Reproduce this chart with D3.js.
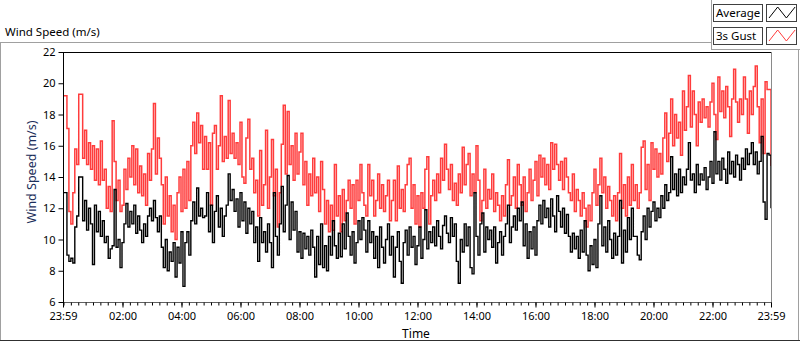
<!DOCTYPE html>
<html><head><meta charset="utf-8">
<script src="https://cdn.jsdelivr.net/npm/d3@7"></script>
<style>
body{margin:0;background:#fff;}
svg text{font-family:"Noto Sans",sans-serif;}
</style></head><body>
<svg id="c" width="800" height="342"></svg>
<script>
// sampling interval of the series (minutes from the 23:59 start)
const stepMinutes = 4;

// 3s Gust (m/s)
const gustA = [19.2,19.2,17.1,11.8,11.0,13.0,15.8,14.8,19.3,19.3,15.2,17.0,14.8,16.2,14.5,16.0,13.8,15.8,13.5,16.3,13.8,14.5,12.0,13.4,11.8,17.6,15.0,12.5,13.8,11.8,12.2,14.5,13.2,15.2,14.0,16.0,13.5,15.8,13.0,14.7,12.8,14.2,12.2,15.5,13.8,15.8,18.7,14.2,16.5,15.2,13.5,11.0,14.0,11.5,12.8,10.5,12.2,10.0,13.0,14.0,11.8,14.5,12.0,15.0,12.5,16.0,17.5,15.5,18.1,16.2,17.3,14.5];
const gustB = [16.6,14.5,16.2,12.2,16.8,17.3,14.5,16.0,19.2,15.0,16.6,15.2,18.9,15.5,16.8,15.2,16.2,14.8,17.5,14.0,13.6,16.5,17.7,14.5,15.2,13.0,13.8,11.5,15.7,12.2,13.5,17.0,12.0,14.0,16.4,12.8,14.5,10.8,13.0,16.1,18.6,14.2,18.2,14.8,16.0,13.8,16.8,14.2,15.6,16.8,13.5,15.0,12.2,14.2,12.8,15.2,13.0,14.0,11.8,15.0,13.2,11.0,12.5,10.5,12.2,10.6,14.8,11.5,12.8,10.5,13.2,11.2,12.5,13.8];
const gustC = [12.0,13.5,11.0,13.8,12.5,14.8,13.0,12.2,11.5,14.8,12.8,13.8,11.5,12.5,14.2,12.0,13.5,11.8,12.8,13.8,11.2,12.5,13.8,11.2,14.7,12.0,13.2,11.8,13.5,14.8,15.2,12.0,13.5,11.0,12.8,10.8,13.0,12.0,14.5,15.3,11.0,12.8,13.8,12.5,14.2,13.0,15.2,13.8,16.1,14.5,13.2,14.8,12.5,13.6,12.2,14.2,13.0,15.9,13.5,14.8,15.5,12.8,14.2,13.0,16.0,13.8,11.2,12.5,14.5,12.0,13.2,12.6];
const gustD = [14.2,11.8,13.0,12.2,11.2,12.8,11.5,13.5,15.1,12.2,12.8,14.0,12.0,14.8,13.5,12.2,14.0,11.8,13.0,14.5,12.5,13.8,15.0,12.8,15.4,14.0,15.2,13.5,14.8,13.2,16.2,14.5,16.1,14.8,13.8,15.0,13.2,15.2,14.0,13.0,12.5,14.2,11.8,13.2,12.5,11.5,13.0,12.0,10.8,12.2,11.2,13.0,14.5,12.2,13.5,15.2,13.0,14.0,12.0,13.4,12.5,11.5,12.8,11.2,13.0,15.5,12.0,13.5,11.5,14.0,12.2,14.8,12.5];
const gustE = [13.5,12.0,13.0,15.9,16.3,13.2,14.8,12.5,16.2,14.5,15.8,14.0,15.5,14.2,16.5,18.1,15.0,16.8,19.0,16.0,18.0,16.5,17.5,15.4,19.5,17.0,18.5,20.5,17.2,19.5,18.0,16.0,18.8,17.5,19.0,17.8,18.5,17.2,18.8,20.0,18.0,16.4,20.4,18.2,19.5,17.8,19.8,18.5,16.6,19.0,20.9,18.8,17.5,19.0,18.0,20.4,19.0,16.8,19.5,18.0,19.8,21.1,18.5,16.2,19.0,15.5,20.1,19.6,19.6,14.7];

// Average (m/s)
const avgA = [13.0,13.0,9.0,8.6,8.8,8.5,10.8,11.5,14.0,14.0,11.2,12.5,10.6,12.0,11.0,8.4,12.2,10.5,11.8,10.2,11.2,9.8,10.2,8.8,9.4,9.6,13.2,9.5,10.0,8.2,9.8,11.0,12.3,10.8,11.8,11.0,12.2,10.4,11.5,10.6,9.8,11.0,10.2,11.5,12.0,11.2,12.5,11.4,10.5,11.5,9.5,8.2,10.0,8.0,9.2,8.6,9.8,7.6,9.5,8.5,10.5,7.0,9.8,10.5,9.0,11.2,12.4,11.0,13.3,11.5,12.0,11.4];
const avgB = [11.5,13.0,10.5,12.2,9.8,11.8,12.8,10.8,12.0,10.2,11.5,12.2,14.2,12.5,13.2,11.8,12.6,10.8,13.0,11.2,12.4,10.4,12.0,11.0,11.8,9.8,10.8,8.6,11.4,9.8,10.5,9.2,11.0,9.8,8.2,13.0,10.2,9.0,11.0,13.4,10.5,12.2,14.1,10.0,12.4,10.6,11.8,9.2,10.5,8.8,10.4,9.4,10.2,9.0,10.6,9.5,7.6,10.2,8.4,11.0,8.2,9.6,8.0,10.2,9.0,11.2,9.6,8.8,10.4,8.9,11.0,9.4,11.7,10.2];
const avgC = [9.0,10.5,8.5,9.8,11.2,10.0,11.4,10.6,9.2,11.2,9.8,10.5,8.8,10.2,8.2,10.8,9.5,8.5,10.0,11.0,9.0,10.2,7.6,9.5,10.5,8.6,7.2,9.8,10.6,9.0,10.8,9.5,10.2,8.4,9.6,10.8,8.8,10.0,11.9,9.4,10.5,9.8,10.8,9.6,11.2,10.2,9.4,10.9,11.5,10.4,9.8,11.4,10.2,11.0,8.6,7.2,10.0,9.2,11.0,9.6,10.8,8.2,7.8,13.0,10.2,9.0,11.0,11.7,9.2,10.8,10.0,10.6];
const avgD = [9.5,10.8,8.5,9.8,10.5,9.0,10.2,11.0,12.2,9.8,10.8,11.5,10.6,12.0,11.2,12.4,9.6,11.0,8.8,10.5,9.4,10.8,9.0,11.2,12.2,11.0,12.5,11.4,12.0,10.8,12.6,11.5,10.5,12.8,11.8,10.8,12.0,10.4,11.6,10.2,9.2,10.4,9.4,10.2,8.8,10.6,9.2,11.2,9.0,8.0,9.6,8.4,10.0,8.2,11.0,12.8,9.6,10.8,9.2,11.2,10.0,8.8,10.4,9.0,10.2,12.5,8.5,10.6,9.2,11.4,10.0,12.0,10.2];
const avgE = [10.2,9.0,8.7,10.5,11.5,10.0,12.0,10.8,11.8,12.4,11.2,12.0,11.4,12.8,12.0,13.5,12.5,13.0,15.3,13.2,14.2,12.8,14.5,13.0,14.0,13.5,14.5,16.2,13.8,14.2,13.0,14.8,13.5,14.2,13.8,14.6,13.2,14.0,15.0,13.6,16.9,14.2,15.0,13.8,15.2,14.5,13.6,15.6,14.2,15.0,14.0,15.4,14.8,13.8,15.2,14.5,15.8,14.8,15.5,16.2,14.8,15.6,14.2,15.0,16.6,12.4,11.3,15.5,15.4,12.0];

const gustSpeed = [].concat(gustA, gustB, gustC, gustD, gustE);
const avgSpeed = [].concat(avgA, avgB, avgC, avgD, avgE);

const yTickValues = [6,8,10,12,14,16,18,20,22];
const xTickMinutes = [0,121,241,361,481,601,721,841,961,1081,1201,1321,1440];
const xTickLabels = ["23:59","02:00","04:00","06:00","08:00","10:00","12:00","14:00","16:00","18:00","20:00","22:00","23:59"];
const seriesNames = ["Average","3s Gust"];
const seriesColors = ["#000000","#ff3c3c"];

const svg = d3.select("#c");
const L = 63, R = 771, T = 52, B = 302;
const x = d3.scaleLinear().domain([0,1440]).range([L,R]);
const y = d3.scaleLinear().domain([6,22]).range([B,T]);

// outer panel frame
svg.append("text").attr("x",5).attr("y",36).attr("font-size","11.5px").attr("fill","#000").text("Wind Speed (m/s)");
svg.append("line").attr("x1",0).attr("x2",711).attr("y1",42.5).attr("y2",42.5).attr("stroke","#a0a0a0");
svg.append("line").attr("x1",0.5).attr("x2",0.5).attr("y1",42).attr("y2",341).attr("stroke","#a0a0a0");
svg.append("line").attr("x1",798.5).attr("x2",798.5).attr("y1",49).attr("y2",341).attr("stroke","#a0a0a0");
svg.append("line").attr("x1",0).attr("x2",800).attr("y1",340.5).attr("y2",340.5).attr("stroke","#303030");
svg.append("line").attr("x1",711.5).attr("x2",711.5).attr("y1",0).attr("y2",49.5).attr("stroke","#a0a0a0");
svg.append("line").attr("x1",711).attr("x2",800).attr("y1",49.5).attr("y2",49.5).attr("stroke","#a0a0a0");

// plot area
svg.append("rect").attr("x",L).attr("y",T).attr("width",R-L).attr("height",B-T).attr("fill","#fff");
svg.append("defs").append("clipPath").attr("id","clip").append("rect")
  .attr("x",L+1).attr("y",T+1).attr("width",R-L-1).attr("height",B-T-1);

const line = d3.line()
  .x((d,i)=>x(i*stepMinutes))
  .y(d=>y(d))
  .curve(d3.curveStepAfter);
const g = svg.append("g").attr("clip-path","url(#clip)");
g.append("path").datum(gustSpeed).attr("d",line).attr("fill","none").attr("stroke",seriesColors[1])
  .attr("stroke-width",1.5).attr("stroke-linejoin","miter");
g.append("path").datum(avgSpeed).attr("d",line).attr("fill","none").attr("stroke",seriesColors[0])
  .attr("stroke-width",1.4).attr("stroke-linejoin","miter");

// frame
svg.append("line").attr("x1",L).attr("x2",R+1).attr("y1",T+0.5).attr("y2",T+0.5).attr("stroke","#000");
svg.append("line").attr("x1",R+0.5).attr("x2",R+0.5).attr("y1",T).attr("y2",B+1).attr("stroke","#8a8a8a");
svg.append("line").attr("x1",L).attr("x2",R+1).attr("y1",B+0.5).attr("y2",B+0.5).attr("stroke","#606060");
svg.append("line").attr("x1",L+0.5).attr("x2",L+0.5).attr("y1",T).attr("y2",B+1).attr("stroke","#000");

// y axis
const yAxis = d3.axisLeft(y).tickValues(yTickValues).tickSize(5).tickPadding(3).tickFormat(d3.format("d"));
const ya = svg.append("g").attr("transform",`translate(${L+0.5},0)`).call(yAxis);
ya.select(".domain").remove();
ya.selectAll("text").attr("font-size","11px").attr("fill","#000").style("font-family","'Noto Sans',sans-serif");
ya.selectAll("line").attr("stroke","#000");

// x axis: minor ticks every 15 min, major every 2 h
const minor = d3.range(1,1440,15);
const xaMinor = svg.append("g").attr("transform",`translate(0,${B+0.5})`)
  .call(d3.axisBottom(x).tickValues(minor).tickSize(3).tickFormat(""));
xaMinor.select(".domain").remove();
xaMinor.selectAll("line").attr("stroke","#000");
const xa = svg.append("g").attr("transform",`translate(0,${B+0.5})`)
  .call(d3.axisBottom(x).tickValues(xTickMinutes).tickSize(5).tickPadding(5)
    .tickFormat((d,i)=>xTickLabels[i]));
xa.select(".domain").remove();
xa.selectAll("line").attr("stroke","#000");
xa.selectAll("text").attr("font-size","11px").attr("fill","#000").style("font-family","'Noto Sans',sans-serif");

// axis titles
svg.append("text").attr("transform","translate(36,172) rotate(-90)").attr("text-anchor","middle")
  .attr("font-size","12.5px").attr("fill","#1c2e5a").text("Wind Speed (m/s)");
svg.append("text").attr("x",416).attr("y",338).attr("text-anchor","middle")
  .attr("font-size","12px").attr("fill","#000").text("Time");

// legend
const lg = svg.append("g");
seriesNames.forEach((name,i)=>{
  const top = 4 + i*23;
  lg.append("rect").attr("x",713.5).attr("y",top+0.5).attr("width",49).attr("height",17)
    .attr("fill","#fff").attr("stroke","#404040");
  lg.append("text").attr("x",716).attr("y",top+13).attr("font-size","11.5px").attr("fill","#000").text(name);
  lg.append("rect").attr("x",766.5).attr("y",top+0.5).attr("width",30).attr("height",17)
    .attr("fill","#fff").attr("stroke","#404040");
  const zz = [[0,0],[1,1],[2,0],[3,1]];
  lg.append("path").datum(zz)
    .attr("d", d3.line().x(d=>769+d[0]*8.7).y(d=>top+(d[1]? 3:14)))
    .attr("fill","none").attr("stroke",seriesColors[i]).attr("stroke-width",1);
});
</script>
</body></html>
